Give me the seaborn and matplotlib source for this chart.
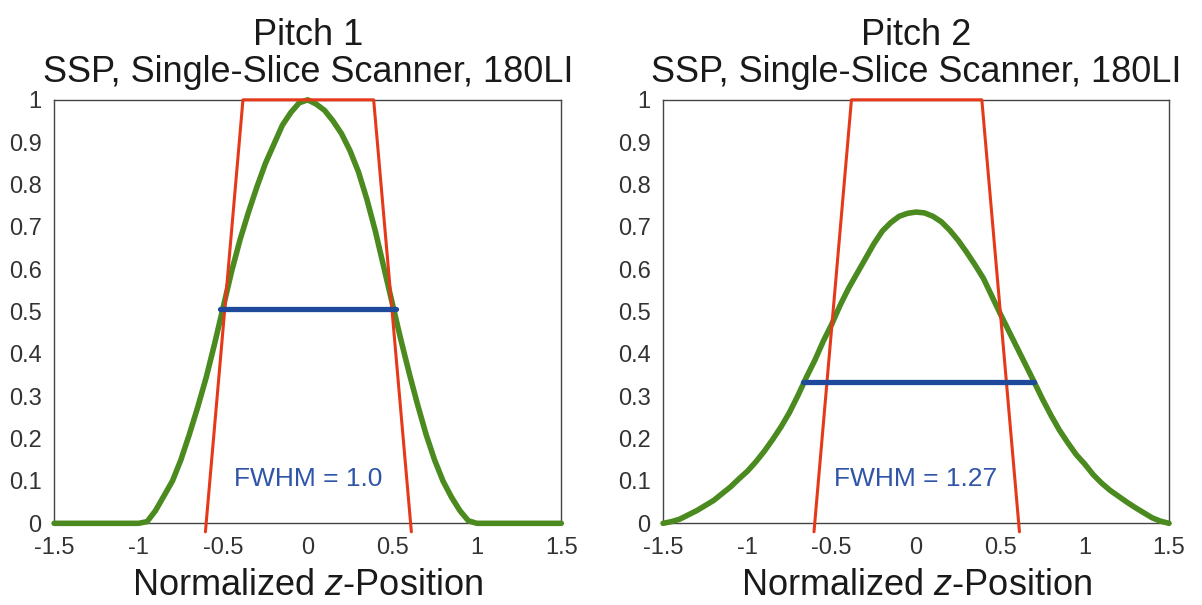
import seaborn as sns
import pandas as pd
import matplotlib.pyplot as plt

# normalized z positions where the SSP curves were read
z_pos = [-1.5, -1.45, -1.4, -1.35, -1.3, -1.25, -1.2, -1.15, -1.1, -1.05,
         -1.0, -0.95, -0.9, -0.85, -0.8, -0.75, -0.7, -0.65, -0.6, -0.55,
         -0.5, -0.45, -0.4, -0.35, -0.3, -0.25, -0.2, -0.15, -0.1, -0.05,
         0.0, 0.05, 0.1, 0.15, 0.2, 0.25, 0.3, 0.35, 0.4, 0.45,
         0.5, 0.55, 0.6, 0.65, 0.7, 0.75, 0.8, 0.85, 0.9, 0.95,
         1.0, 1.05, 1.1, 1.15, 1.2, 1.25, 1.3, 1.35, 1.4, 1.45, 1.5]

pitch1_ssp = [0.0, 0.0, 0.0, 0.0, 0.0, 0.0, 0.0, 0.0, 0.0, 0.0,
              0.0, 0.004, 0.03, 0.065, 0.10, 0.15, 0.21, 0.275, 0.345, 0.425,
              0.51, 0.595, 0.67, 0.735, 0.795, 0.85, 0.895, 0.94, 0.97, 0.993,
              1.0, 0.99, 0.975, 0.95, 0.92, 0.88, 0.83, 0.765, 0.69, 0.605,
              0.52, 0.435, 0.355, 0.28, 0.21, 0.15, 0.10, 0.062, 0.03, 0.006,
              0.0, 0.0, 0.0, 0.0, 0.0, 0.0, 0.0, 0.0, 0.0, 0.0, 0.0]

pitch2_ssp = [0.0, 0.004, 0.01, 0.02, 0.03, 0.042, 0.054, 0.07, 0.086, 0.105,
              0.123, 0.145, 0.17, 0.198, 0.228, 0.262, 0.302, 0.345, 0.385, 0.43,
              0.47, 0.515, 0.555, 0.59, 0.625, 0.66, 0.69, 0.71, 0.725, 0.732,
              0.735, 0.733, 0.725, 0.712, 0.692, 0.668, 0.64, 0.61, 0.578, 0.536,
              0.494, 0.454, 0.414, 0.374, 0.334, 0.293, 0.255, 0.22, 0.19, 0.162,
              0.14, 0.115, 0.095, 0.078, 0.064, 0.05, 0.037, 0.025, 0.013, 0.005, 0.0]

# nominal slice profile (red trapezoid)
nominal_z = [-0.605, -0.383, 0.39, 0.613]
nominal_ssp = [-0.02, 1.0, 1.0, -0.02]

# FWHM bars
fwhm1_z = [-0.518, 0.524]
fwhm1_level = [0.505, 0.505]
fwhm2_z = [-0.668, 0.70]
fwhm2_level = [0.334, 0.334]

panels = ["Pitch 1", "Pitch 2"]
fwhm_labels = ["FWHM = 1.0", "FWHM = 1.27"]

x_ticks = [-1.5, -1, -0.5, 0, 0.5, 1, 1.5]
x_ticklabels = ["-1.5", "-1", "-0.5", "0", "0.5", "1", "1.5"]
y_ticks = [0, 0.1, 0.2, 0.3, 0.4, 0.5, 0.6, 0.7, 0.8, 0.9, 1.0]
y_ticklabels = ["0", "0.1", "0.2", "0.3", "0.4", "0.5", "0.6", "0.7", "0.8", "0.9", "1"]

sns.set_style("white")
plt.rcParams['font.family'] = ['Liberation Sans', 'DejaVu Sans']
plt.rcParams['mathtext.fontset'] = 'custom'
plt.rcParams['mathtext.it'] = 'Liberation Sans:italic'
plt.rcParams['mathtext.rm'] = 'Liberation Sans'

green = "#4b8a1e"
red = "#e5391a"
blue = "#1f4a9c"

fig = plt.figure(figsize=(12.02, 6.05), dpi=100)
ax1 = fig.add_axes([0.045, 0.135, 0.422, 0.700])
ax2 = fig.add_axes([0.5516, 0.135, 0.421, 0.700])

curves = [pitch1_ssp, pitch2_ssp]
fwhm_z = [fwhm1_z, fwhm2_z]
fwhm_lv = [fwhm1_level, fwhm2_level]

for i, ax in enumerate([ax1, ax2]):
    df = pd.DataFrame({"z": z_pos, "ssp": curves[i]})
    sns.lineplot(data=df, x="z", y="ssp", ax=ax, color=green, linewidth=4.0,
                 zorder=3, clip_on=False)
    sns.lineplot(x=nominal_z, y=nominal_ssp, ax=ax, color=red, linewidth=2.2,
                 zorder=4, clip_on=False, sort=False)
    sns.lineplot(x=fwhm_z[i], y=fwhm_lv[i], ax=ax, color=blue, linewidth=3.8,
                 zorder=5)
    ax.text(0.0, 0.105, fwhm_labels[i], color="#2f55a8", fontsize=19,
            ha="center", va="center")

    ax.set_xlim(-1.5, 1.5)
    ax.set_ylim(0, 1)
    ax.set_xticks(x_ticks)
    ax.set_xticklabels(x_ticklabels)
    ax.set_yticks(y_ticks)
    ax.set_yticklabels(y_ticklabels)
    ax.tick_params(length=0, labelsize=17, labelcolor="#333333")
    ax.tick_params(axis="x", pad=10)
    ax.tick_params(axis="y", pad=9)
    for s in ax.spines.values():
        s.set_color("#444444")
        s.set_linewidth(1.0)

    ax.set_title(panels[i] + "\nSSP, Single-Slice Scanner, 180LI",
                 fontsize=26, pad=13, linespacing=1.05, color="#1a1a1a")
    ax.set_xlabel("Normalized $z$-Position", fontsize=26, labelpad=6,
                  color="#1a1a1a")
    ax.set_ylabel("")

plt.savefig("out.png", dpi=100)
